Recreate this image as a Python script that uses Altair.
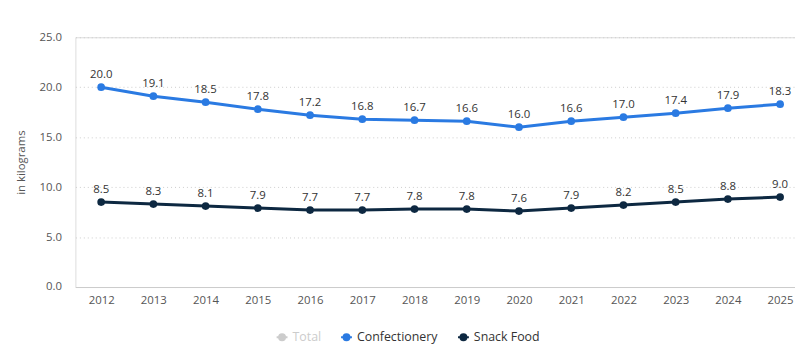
import altair as alt
import pandas as pd

years = [2012, 2013, 2014, 2015, 2016, 2017, 2018, 2019, 2020, 2021, 2022, 2023, 2024, 2025]
confectionery = [20.0, 19.1, 18.5, 17.8, 17.2, 16.8, 16.7, 16.6, 16.0, 16.6, 17.0, 17.4, 17.9, 18.3]
snack_food = [8.5, 8.3, 8.1, 7.9, 7.7, 7.7, 7.8, 7.8, 7.6, 7.9, 8.2, 8.5, 8.8, 9.0]
series_names = ["Total", "Confectionery", "Snack Food"]
series_colors = ["#cccccc", "#2a7ae2", "#0d2841"]
y_ticks = [0, 5, 10, 15, 20, 25]

rows = []
for y, c, s in zip(years, confectionery, snack_food):
    rows.append({"year": y, "series": "Confectionery", "value": c})
    rows.append({"year": y, "series": "Snack Food", "value": s})
df = pd.DataFrame(rows)

FONT = "Open Sans"

x = alt.X("year:Q", scale=alt.Scale(domain=[2011.507, 2025.285], nice=False, zero=False),
          axis=alt.Axis(values=years, format="d", title=None, grid=False, ticks=False,
                        domainColor="#cccccc", labelColor="#555555", labelFontSize=11.5,
                        labelPadding=8, labelFont=FONT))
y = alt.Y("value:Q", scale=alt.Scale(domain=[0, 25], nice=False),
          axis=alt.Axis(values=y_ticks, format=".1f", title="in kilograms", ticks=False,
                        domain=False, gridDash=[1, 3], gridColor="#cccccc",
                        labelColor="#555555", labelFontSize=11.5, labelPadding=14,
                        titleColor="#555555", titleFontSize=11.5, titleFontWeight="normal",
                        titlePadding=13, labelFont=FONT, titleFont=FONT))
color = alt.Color("series:N", scale=alt.Scale(domain=series_names, range=series_colors),
                  legend=alt.Legend(title=None, orient="none", direction="horizontal",
                                    legendX=202, legendY=296, columnPadding=16,
                                    symbolType="M -1 0 L 1 0 M -0.55 0 A 0.55 0.55 0 1 0 0.55 0 A 0.55 0.55 0 1 0 -0.55 0",
                                    symbolSize=120, symbolStrokeWidth=2,
                                    labelFontSize=12.5, labelFont=FONT,
                                    labelColor={"expr": "datum.value == 'Total' ? '#cccccc' : '#333333'"}))

base = alt.Chart(df).encode(x=x, y=y, color=color)
lines = base.mark_line(strokeWidth=3)
points = base.mark_point(filled=True, size=60, opacity=1)
labels = base.mark_text(dy=-12, fontSize=11.5, font=FONT).encode(
    text=alt.Text("value:Q", format=".1f"), color=alt.value("#333333"))

chart = (lines + points + labels).properties(
    width=726, height=252,
    autosize=alt.AutoSizeParams(type="none"),
    padding={"left": 68, "top": 28, "right": 0, "bottom": 60},
).configure_view(stroke=None).configure(background="white")

chart.save("out.html", embed_options={"renderer": "svg", "actions": False})
